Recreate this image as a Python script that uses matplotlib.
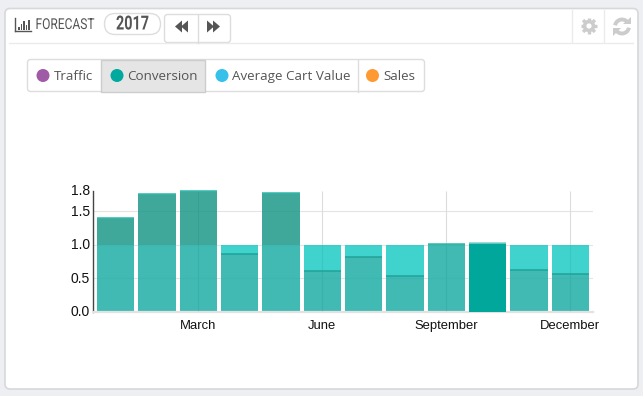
import math

import matplotlib
matplotlib.use("Agg")
import matplotlib.pyplot as plt
import matplotlib.patheffects as pe
from matplotlib.patches import FancyBboxPatch, Rectangle, Circle, Polygon, Arc
from matplotlib.transforms import Affine2D, ScaledTranslation

months = ["Jan", "Feb", "March", "Apr", "May", "June", "Jul", "Aug",
          "September", "Oct", "Nov", "December"]
target = [1, 1, 1, 1, 1, 1, 1, 1, 1, 1, 1, 1]
actual = [1.40, 1.75, 1.80, 0.87, 1.77, 0.61, 0.82, 0.53, 1.01, 1.02, 0.63, 0.56]
highlight = 9
xtick_pos = [2, 5, 8, 11]
xtick_labels = ["March", "June", "September", "December"]
yticks = [0, 0.5, 1.0, 1.5, 1.8]
ygrid = [0.5, 1.0, 1.5]
legend_names = ["Traffic", "Conversion", "Average Cart Value", "Sales"]
legend_colors = ["#9F5BA5", "#00A99D", "#37C0EA", "#FF9933"]

W, H = 643, 396


# squeezes text sideways, no condensed font is installed
class Condense(pe.AbstractPathEffect):
    def __init__(self, sx, x0):
        super().__init__()
        self.sx = sx
        self.x0 = x0

    def draw_path(self, renderer, gc, tpath, affine, rgbFace=None):
        squeeze = Affine2D().translate(-self.x0, 0).scale(self.sx, 1).translate(self.x0, 0)
        renderer.draw_path(gc, tpath, affine + squeeze, rgbFace)


fig = plt.figure(figsize=(W / 100, H / 100), dpi=100, facecolor="#EEEFF2")

# page chrome, drawn in pixel coordinates
bg = fig.add_axes([0, 0, 1, 1], zorder=0)
bg.set_xlim(0, W)
bg.set_ylim(H, 0)
bg.axis("off")

bg.add_patch(FancyBboxPatch((5, 8.5), 633, 380.5, boxstyle="round,pad=0,rounding_size=5",
                            fc="white", ec="#D6D8DA", lw=1.2))
bg.plot([9, 633], [42.5, 42.5], color="#EBEBEB", lw=1)
bg.plot([572, 572], [10, 42], color="#EBEBEB", lw=1)
bg.plot([604, 604], [10, 42], color="#EBEBEB", lw=1)

# title bar icon
for bx, bh in zip([18, 20.5, 23, 25.5, 28], [3, 6, 9, 5, 10]):
    bg.add_patch(Rectangle((bx, 29.5 - bh), 1.6, bh, fc="#555555", ec="none"))
bg.plot([15, 31], [30.5, 30.5], color="#555555", lw=1)
bg.plot([15, 15], [18, 30.5], color="#555555", lw=1)
t = bg.text(35.5, 25, "FORECAST", family="Roboto", fontsize=10.8, color="#555555", va="center")
t.set_path_effects([Condense(0.8, 35.5)])

# year pill
bg.add_patch(FancyBboxPatch((104.5, 13.5), 56, 21, boxstyle="round,pad=0,rounding_size=10.5",
                            fc="white", ec="#DDDDDD", lw=1))
t = bg.text(116, 24.5, "2017", family="Roboto", fontsize=14, fontweight="bold",
            color="#555555", va="center")
t.set_path_effects([Condense(0.74, 116)])

# prev / next buttons
bg.add_patch(FancyBboxPatch((164.5, 14.5), 66, 28, boxstyle="round,pad=0,rounding_size=3",
                            fc="white", ec="#DDDDDD", lw=1))
bg.plot([197.5, 197.5], [14.5, 42.5], color="#DDDDDD", lw=1)
for a, b in [(182, 175), (188, 181), (207, 214), (213, 220)]:
    bg.add_patch(Polygon([(a, 20.5), (a, 32.5), (b, 26.5)], fc="#555555", ec="none"))

# gear icon
gx, gy = 589, 26
bg.add_patch(Circle((gx, gy), 6.2, fc="#CCCCCC", ec="none"))
for k in range(8):
    ang = k * math.pi / 4
    bg.plot([gx + 4 * math.cos(ang), gx + 8.4 * math.cos(ang)],
            [gy + 4 * math.sin(ang), gy + 8.4 * math.sin(ang)],
            color="#CCCCCC", lw=2.4, solid_capstyle="butt")
bg.add_patch(Circle((gx, gy), 2.6, fc="white", ec="none"))

# refresh icon
bg.add_patch(Arc((622, 26.5), 14, 14, theta1=190, theta2=330, color="#CCCCCC", lw=2.8))
bg.add_patch(Arc((622, 26.5), 14, 14, theta1=10, theta2=150, color="#CCCCCC", lw=2.8))
bg.add_patch(Polygon([(623, 24), (631, 24), (631, 17)], fc="#CCCCCC", ec="none"))
bg.add_patch(Polygon([(613, 28), (621, 28), (613, 36)], fc="#CCCCCC", ec="none"))

# legend buttons
bg.add_patch(FancyBboxPatch((27.5, 59.5), 397, 32, boxstyle="round,pad=0,rounding_size=3",
                            fc="white", ec="#DDDDDD", lw=1))
bg.add_patch(Rectangle((101, 59.5), 104, 32, fc="#E5E5E5", ec="#CCCCCC", lw=1))
bg.plot([357.5, 357.5], [59.5, 91.5], color="#DDDDDD", lw=1)
dot_x = [43, 117, 222, 372.5]
text_x = [54, 127, 232, 383]
for name, col, dx, tx in zip(legend_names, legend_colors, dot_x, text_x):
    bg.add_patch(Circle((dx, 75.5), 6.5, fc=col, ec="none"))
    bg.text(tx, 76.5, name, family="Open Sans", fontsize=9.6, color="#555555", va="center")

# chart
ax = fig.add_axes([93.3 / W, (H - 312) / H, 499.7 / W, 121 / H], zorder=1)
ax.patch.set_alpha(0)
x = list(range(len(months)))
ax.set_xlim(-0.54, 11.55)
ax.set_ylim(0, 1.8)

# each bar has up to three bands: overlap, target left over, actual above target
overlap = [min(a, b) for a, b in zip(actual, target)]
target_rest = [max(b - a, 0) for a, b in zip(actual, target)]
actual_rest = [max(a - b, 0) for a, b in zip(actual, target)]

# light grid under the see-through bars
ax.hlines(ygrid, -0.54, 11.55, color="#E4E4E4", lw=0.8, zorder=1)
ax.vlines(xtick_pos, 0, 1.8, color="#E4E4E4", lw=0.8, zorder=1)

ax.bar(x, overlap, width=0.9, color="#1EAEA6", alpha=0.85, zorder=2)
ax.bar(x, target_rest, bottom=overlap, width=0.9, color="#1ECAC5", alpha=0.85, zorder=2)
ax.bar(x, actual_rest, bottom=target, width=0.9, color="#1E9989", alpha=0.85, zorder=2,
       clip_on=False)

# faint second pass so the grid reads a little darker inside the bars
ax.vlines(xtick_pos, 0, 1.8, color="black", alpha=0.03, lw=0.8, zorder=3)

ax.bar(x[highlight], actual[highlight], width=0.9, color="#00A79A", zorder=4, clip_on=False)

for i, v in enumerate(actual):
    if i == highlight:
        cap = "#7FD3CC"
    elif v > 1:
        cap = "#2FB8AC"
    else:
        cap = "#1FA398"
    ax.hlines(v, i - 0.45, i + 0.45, color=cap, lw=1.1, zorder=5, clip_on=False)

ax.set_xticks(xtick_pos)
ax.set_xticklabels(xtick_labels, fontsize=9.36, family="Liberation Sans", color="#111111")
ax.set_yticks(yticks)
ax.set_yticklabels([f"{t:.1f}" for t in yticks], fontsize=10, family="Liberation Sans",
                   color="#111111")
ax.tick_params(axis="both", length=0)
ax.tick_params(axis="x", pad=6)
ax.tick_params(axis="y", pad=2.2)
for lab in ax.get_yticklabels():
    lab.set_transform(lab.get_transform() + ScaledTranslation(0, 1 / 100, fig.dpi_scale_trans))

for s in ["top", "right"]:
    ax.spines[s].set_visible(False)
ax.spines["left"].set_color("#444444")
ax.spines["left"].set_linewidth(1)
ax.spines["bottom"].set_color("#E2E2E2")
ax.spines["bottom"].set_linewidth(1.6)

fig.savefig("out.png", dpi=100, facecolor=fig.get_facecolor())
